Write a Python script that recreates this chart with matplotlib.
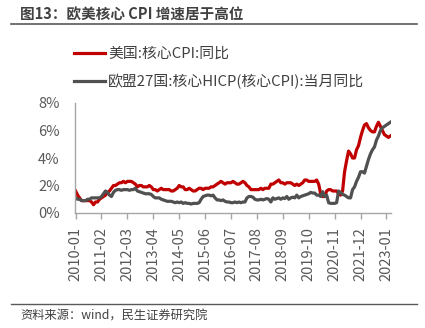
import matplotlib
matplotlib.use("Agg")
import matplotlib.pyplot as plt
from matplotlib.lines import Line2D
import numpy as np

plt.rcParams['font.family'] = ['Noto Sans CJK SC', 'DejaVu Sans']

# ---------------- DATA ----------------
start_month = "2010-01"
tick_labels = ["2010-01", "2011-02", "2012-03", "2013-04", "2014-05", "2015-06",
               "2016-07", "2017-08", "2018-09", "2019-10", "2020-11", "2021-12", "2023-01"]
y_ticks = [0, 2, 4, 6, 8]
y_tick_labels = ["0%", "2%", "4%", "6%", "8%"]

us_label = "美国:核心CPI:同比"
eu_label = "欧盟27国:核心HICP(核心CPI):当月同比"

# US core CPI YoY, monthly 2010-01 .. 2023-03
us_core = [
    1.6, 1.3, 1.1, 0.9, 0.9, 0.9, 0.9, 0.9, 0.8, 0.6, 0.8, 0.8,   # 2010
    1.0, 1.1, 1.2, 1.3, 1.5, 1.6, 1.8, 2.0, 2.0, 2.1, 2.2, 2.2,   # 2011
    2.3, 2.2, 2.3, 2.3, 2.3, 2.2, 2.1, 1.9, 2.0, 2.0, 1.9, 1.9,   # 2012
    1.9, 2.0, 1.9, 1.7, 1.7, 1.6, 1.7, 1.8, 1.7, 1.7, 1.7, 1.7,   # 2013
    1.6, 1.6, 1.7, 1.8, 2.0, 1.9, 1.9, 1.7, 1.7, 1.8, 1.7, 1.6,   # 2014
    1.6, 1.7, 1.8, 1.8, 1.7, 1.8, 1.8, 1.8, 1.9, 1.9, 2.0, 2.1,   # 2015
    2.2, 2.3, 2.2, 2.1, 2.2, 2.2, 2.2, 2.3, 2.2, 2.1, 2.1, 2.2,   # 2016
    2.3, 2.2, 2.0, 1.9, 1.7, 1.7, 1.7, 1.7, 1.7, 1.8, 1.7, 1.8,   # 2017
    1.8, 1.8, 2.1, 2.1, 2.2, 2.3, 2.4, 2.2, 2.2, 2.1, 2.2, 2.2,   # 2018
    2.2, 2.1, 2.0, 2.1, 2.0, 2.1, 2.2, 2.4, 2.4, 2.3, 2.3, 2.3,   # 2019
    2.3, 2.4, 2.1, 1.4, 1.2, 1.2, 1.6, 1.7, 1.7, 1.6, 1.6, 1.6,   # 2020
    1.4, 1.3, 1.6, 3.0, 3.8, 4.5, 4.3, 4.0, 4.0, 4.6, 4.9, 5.5,   # 2021
    6.0, 6.4, 6.5, 6.2, 6.0, 5.9, 5.9, 6.3, 6.6, 6.3, 6.0, 5.7,   # 2022
    5.6, 5.5, 5.6,                                                 # 2023
]

# EU27 core HICP YoY, monthly 2010-01 .. 2023-03
eu_core = [
    1.1, 1.0, 1.0, 0.9, 0.9, 0.9, 1.0, 1.0, 1.1, 1.1, 1.1, 1.1,   # 2010
    1.1, 1.2, 1.4, 1.6, 1.5, 1.3, 1.2, 1.5, 1.65, 1.7, 1.7, 1.65, # 2011
    1.7, 1.7, 1.7, 1.65, 1.7, 1.7, 1.8, 1.6, 1.55, 1.5, 1.45, 1.4, # 2012
    1.4, 1.4, 1.35, 1.2, 1.1, 1.1, 1.1, 1.0, 0.95, 0.9, 0.85, 0.85, # 2013
    0.85, 0.8, 0.75, 0.8, 0.75, 0.8, 0.7, 0.75, 0.7, 0.7, 0.65, 0.7, # 2014
    0.7, 0.7, 0.75, 1.0, 1.2, 1.25, 1.3, 1.3, 1.25, 1.3, 1.1, 0.95, # 2015
    0.95, 0.9, 0.95, 0.85, 0.8, 0.8, 0.75, 0.75, 0.8, 0.75, 0.8, 0.75, # 2016
    0.8, 0.8, 1.1, 1.2, 1.2, 1.15, 1.0, 0.95, 0.95, 1.0, 0.95, 1.0, # 2017
    1.05, 1.0, 0.8, 1.1, 1.0, 1.05, 1.1, 1.0, 1.1, 1.05, 1.2, 1.0, # 2018
    1.1, 1.15, 1.1, 1.3, 1.1, 1.2, 1.25, 1.3, 1.35, 1.4, 1.5, 1.45, # 2019
    1.45, 1.3, 1.3, 1.2, 1.55, 1.2, 1.3, 0.75, 0.7, 0.7, 0.7, 0.75, # 2020
    1.6, 1.5, 1.35, 1.3, 1.2, 1.1, 1.1, 1.7, 1.9, 2.3, 2.6, 3.0,   # 2021
    3.0, 2.9, 3.4, 3.9, 4.3, 4.6, 4.8, 5.3, 5.6, 6.0, 6.2, 6.3,    # 2022
    6.4, 6.5, 6.6,                                                  # 2023
]

# ---------------- PLOT ----------------
W, H = 425, 328
fig = plt.figure(figsize=(W / 100, H / 100), dpi=100)
fig.patch.set_facecolor("white")

ax = fig.add_axes([75 / W, 1 - 213 / H, 316 / W, 110 / H])

x = np.arange(len(us_core))
red = "#C00000"
gray = "#505050"
l_us, = ax.plot(x, us_core, color=red, lw=2.3, label=us_label, solid_joinstyle="round")
l_eu, = ax.plot(x[:len(eu_core)], eu_core, color=gray, lw=2.3, label=eu_label,
                solid_joinstyle="round")

ax.set_xlim(-0.3, 158.3)
ax.set_ylim(0, 8)

all_months = [f"{2010 + i // 12}-{i % 12 + 1:02d}" for i in range(len(us_core))]
tick_pos = [all_months.index(t) for t in tick_labels]
ax.set_xticks(tick_pos)
ax.set_xticklabels(tick_labels, rotation=90, fontsize=10.5, color="#595959")
ax.set_yticks(y_ticks)
ax.set_yticklabels(y_tick_labels, fontsize=10.5, color="#595959")

for s in ["top", "right"]:
    ax.spines[s].set_visible(False)
for s in ["left", "bottom"]:
    ax.spines[s].set_color("#A6A6A6")
    ax.spines[s].set_linewidth(1.0)
ax.tick_params(axis="x", direction="out", length=4, width=1.0, color="#A6A6A6", pad=6)
ax.tick_params(axis="y", length=0, pad=11)

# legend
leg = fig.legend(handles=[l_us, l_eu], loc="upper left",
                 bbox_to_anchor=(74 / W, 1 - 47 / H), frameon=False,
                 fontsize=10.7, handlelength=2.1, handletextpad=0.2,
                 labelspacing=0.85, borderaxespad=0, borderpad=0)
for t in leg.get_texts():
    t.set_color("#404040")

# title and source
fig.text(20 / W, 1 - 15 / H, "图13：欧美核心 CPI 增速居于高位", fontsize=10.5,
         fontweight="bold", color="#404040", va="center", ha="left")
fig.add_artist(Line2D([11 / W, 417 / W], [1 - 24 / H] * 2, color="#595959", lw=1.2))
fig.add_artist(Line2D([11 / W, 417 / W], [1 - 304 / H] * 2, color="#595959", lw=1.0))
fig.text(20 / W, 1 - 316 / H, "资料来源：wind，民生证券研究院", fontsize=8.8,
         color="#404040", va="center", ha="left")

fig.savefig("out.png", dpi=100, facecolor="white")
